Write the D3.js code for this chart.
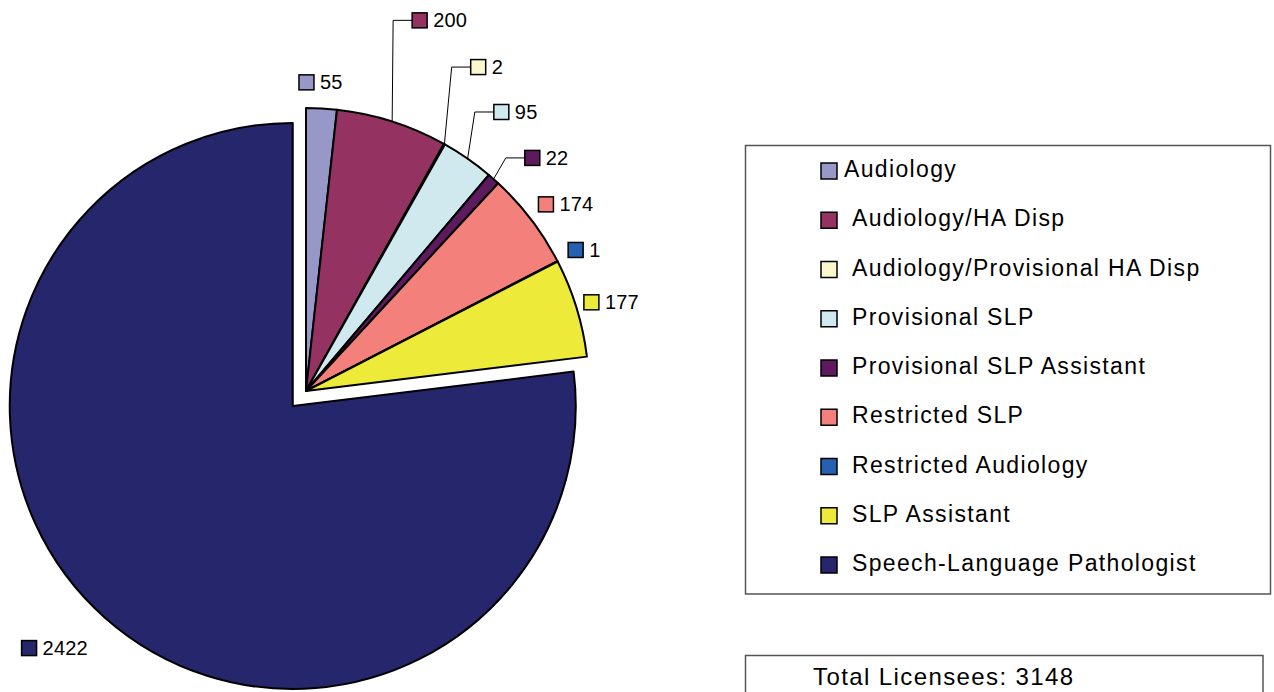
<!DOCTYPE html>
<html>
<head>
<meta charset="UTF-8">
<title>Licensees</title>
<script src="https://cdn.jsdelivr.net/npm/d3@7/dist/d3.min.js"></script>
<style type="text/css">
body { margin: 0; background: #fff; }
svg { display: block; }
text { font-family: "Liberation Sans", Arial, sans-serif; fill: #000; }
.lbl text { font-size: 20px; letter-spacing: 0.2px; }
.legend text { font-size: 23px; letter-spacing: 1.35px; }
.arc path { stroke: #000; stroke-width: 2px; stroke-linejoin: round; }
</style>
</head>
<body>
<div class="chartContainer"></div>
<script>
// data
var categories = ["Audiology", "Audiology/HA Disp", "Audiology/Provisional HA Disp",
                  "Provisional SLP", "Provisional SLP Assistant", "Restricted SLP",
                  "Restricted Audiology", "SLP Assistant", "Speech-Language Pathologist"];
var counts     = [55, 200, 2, 95, 22, 174, 1, 177, 2422];
var colors     = ["#9898c8", "#943361", "#fcf8cc", "#cfe9ef", "#5e1a5e",
                  "#f4807c", "#2561b0", "#eeea3a", "#26266c"];
var totalLabel = "Total Licensees: ";

// label placement (angle nudge in degrees, distance from centre), like dragged excel labels
var labelNudge = [-0.4, 2.1, -0.1, 2.1, 4.4, 1.6, 0.4, 0.9, 3.0];
var labelDist  = [309, 394, 371, 349, 335, 320, 312, 318, 339.5];
var leaders    = [false, true, true, true, true, false, false, false, false];

var width = 1274, height = 692;
var cx = 306, cy = 391, radius = 283, explode = 20;

var svg = d3.select(".chartContainer")
    .append("svg")
    .attr("width", width)
    .attr("height", height);

var pie = d3.pie()
    .sort(null)
    .value(function (d) { return d; });

var arc = d3.arc()
    .innerRadius(0)
    .outerRadius(radius);

var slices = pie(counts);

function polar(a, d) {
    return [d * Math.sin(a), -d * Math.cos(a)];
}

// only the big slice is pulled out
slices.forEach(function (s, i) {
    var mid = (s.startAngle + s.endAngle) / 2;
    var off = s.data === d3.max(counts) ? polar(mid, explode) : [0, 0];
    s.cx = cx + off[0];
    s.cy = cy + off[1];
    s.mid = mid;
    s.i = i;
});

var group = svg.selectAll(".arc")
    .data(slices)
    .enter()
    .append("g")
    .attr("class", "arc")
    .attr("transform", function (d) { return "translate(" + d.cx + "," + d.cy + ")"; });

group.append("path")
    .attr("d", arc)
    .attr("fill", function (d) { return colors[d.i]; });

// data labels
var lbl = svg.selectAll(".lbl")
    .data(slices)
    .enter()
    .append("g")
    .attr("class", "lbl");

lbl.each(function (d) {
    var g = d3.select(this);
    var t = g.append("text").text(counts[d.i]);
    var tw = t.node().getComputedTextLength();
    var bw = 15 + 6 + tw;
    var p = polar(d.mid + labelNudge[d.i] * Math.PI / 180, labelDist[d.i]);
    var bx = d.cx + p[0] - bw / 2;
    var by = d.cy + p[1];
    g.insert("rect", "text")
        .attr("x", bx)
        .attr("y", by - 7.5)
        .attr("width", 15)
        .attr("height", 15)
        .attr("fill", colors[d.i])
        .attr("stroke", "#000")
        .attr("stroke-width", 1.5);
    t.attr("x", bx + 21).attr("y", by + 7);
    if (leaders[d.i]) {
        var e = polar(d.mid, radius);
        var elbowX = bx - 19;
        g.append("path")
            .attr("d", "M" + (d.cx + e[0]) + "," + (d.cy + e[1]) + "L" + elbowX + "," + by + "L" + bx + "," + by)
            .attr("fill", "none")
            .attr("stroke", "#000")
            .attr("stroke-width", 1);
    }
});

// legend
var legend = svg.append("g").attr("class", "legend");
legend.append("rect")
    .attr("x", 745.5).attr("y", 145.5)
    .attr("width", 525).attr("height", 448.5)
    .attr("fill", "#fff")
    .attr("stroke", "#555")
    .attr("stroke-width", 1.5);

var rowY = d3.scalePoint()
    .domain(categories)
    .range([171, 565]);

var items = legend.selectAll(".item")
    .data(categories)
    .enter()
    .append("g")
    .attr("class", "item");

items.append("rect")
    .attr("x", 821)
    .attr("y", function (d) { return rowY(d) - 8; })
    .attr("width", 16)
    .attr("height", 16)
    .attr("fill", function (d, i) { return colors[i]; })
    .attr("stroke", "#000")
    .attr("stroke-width", 1.5);

items.append("text")
    .attr("x", function (d, i) { return i === 0 ? 844 : 852; })
    .attr("y", function (d) { return rowY(d) + 6; })
    .text(function (d) { return d; });

// total box
var tot = svg.append("g").attr("class", "legend");
tot.append("rect")
    .attr("x", 745.5).attr("y", 655.5)
    .attr("width", 517.5).attr("height", 60)
    .attr("fill", "#fff")
    .attr("stroke", "#555")
    .attr("stroke-width", 1.5);
tot.append("text")
    .attr("x", 813)
    .attr("y", 685)
    .style("font-size", "24px")
    .style("letter-spacing", "1.4px")
    .text(totalLabel + d3.sum(counts));
</script>
</body>
</html>
